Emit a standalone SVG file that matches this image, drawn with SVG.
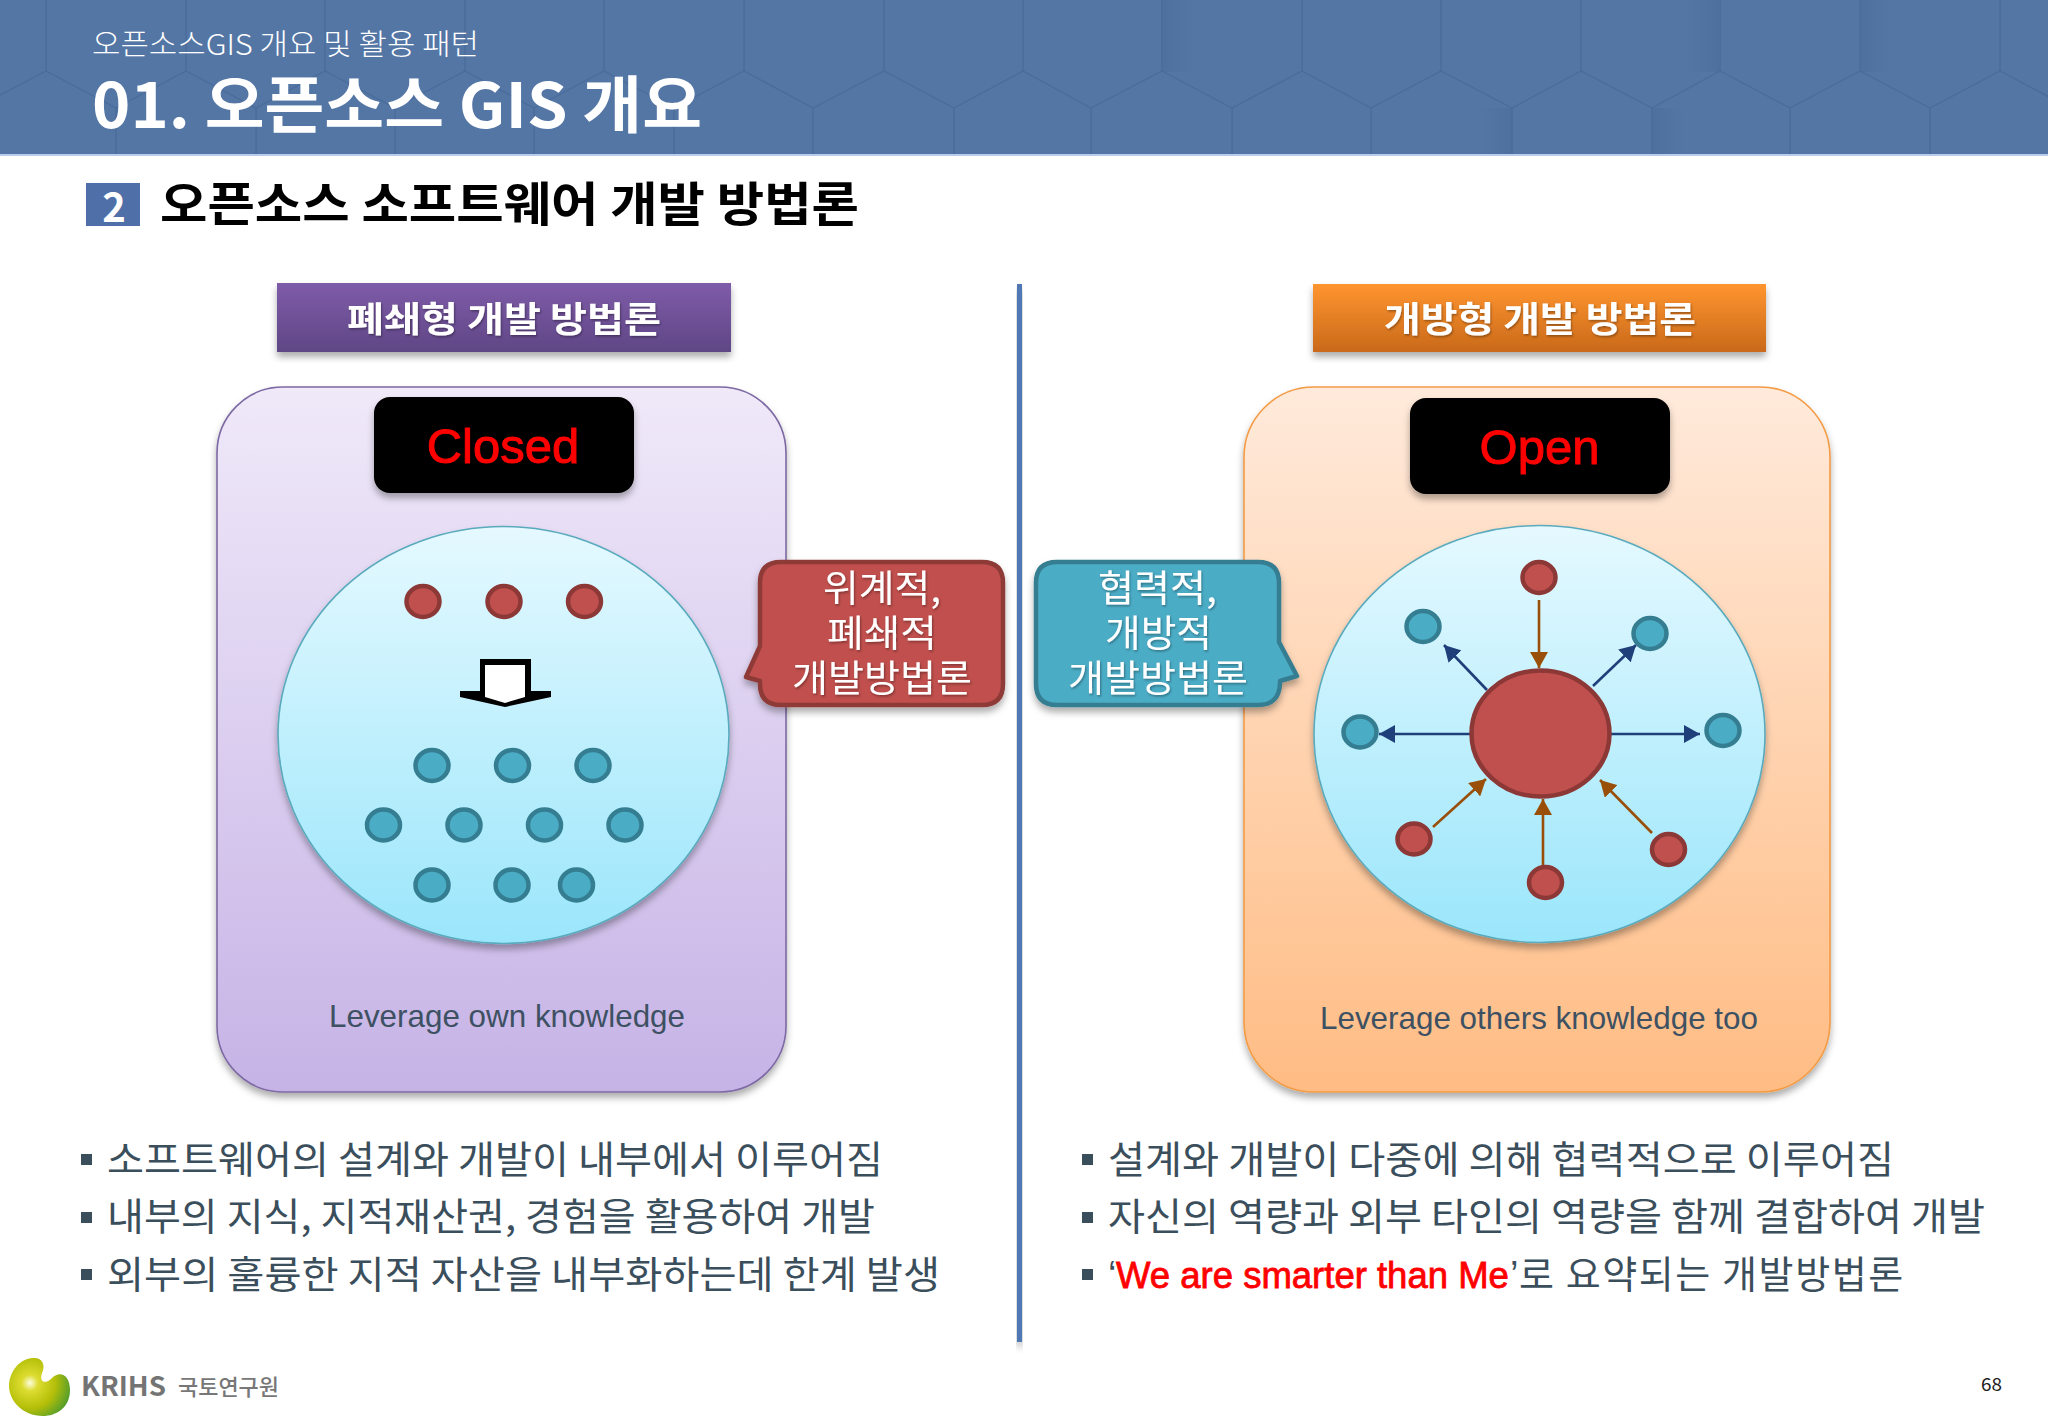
<svg xmlns="http://www.w3.org/2000/svg" width="2048" height="1418" viewBox="0 0 2048 1418">
<style>
text{font-family:"Noto Sans CJK KR","Noto Sans",sans-serif}
.en{font-family:"Liberation Sans",Arial,sans-serif}
.body{font-size:38px;fill:#3b4e5c}
.call{font-size:37px;fill:#fff;filter:url(#ts)}
.bar{font-size:35px;font-weight:700;fill:#fff;filter:url(#ts)}
.tag{font-size:49px;fill:#f00;stroke:#f00;stroke-width:1}
.lev{font-size:32px;fill:#3d5163}
.r{fill:#c0504d;stroke:#8c3836;stroke-width:4.5}
.b{fill:#4bacc6;stroke:#357d91;stroke-width:4.5}
.bul{fill:#3b4e5c}
.nv{stroke:#1f3f7a;stroke-width:2.6;fill:none;marker-end:url(#mn)}
.br{stroke:#9a4f08;stroke-width:2.6;fill:none;marker-end:url(#mb)}
</style>
<defs>
<linearGradient id="gp" x1="0" y1="0" x2="0" y2="1"><stop offset="0" stop-color="#f0e9f9"/><stop offset="1" stop-color="#c6b3e6"/></linearGradient>
<linearGradient id="go" x1="0" y1="0" x2="0" y2="1"><stop offset="0" stop-color="#ffeadb"/><stop offset="1" stop-color="#ffbc84"/></linearGradient>
<linearGradient id="gc" x1="0" y1="0" x2="0" y2="1"><stop offset="0" stop-color="#e5f9ff"/><stop offset="1" stop-color="#9be6fb"/></linearGradient>
<linearGradient id="bp" x1="0" y1="0" x2="0" y2="1"><stop offset="0" stop-color="#7f5ba9"/><stop offset="1" stop-color="#5f4785"/></linearGradient>
<linearGradient id="bo" x1="0" y1="0" x2="0" y2="1"><stop offset="0" stop-color="#ff952f"/><stop offset="1" stop-color="#c9691a"/></linearGradient>
<linearGradient id="sh" x1="0" y1="0" x2="1" y2="0"><stop offset="0" stop-color="#3f6393" stop-opacity=".3"/><stop offset="1" stop-color="#3f6393" stop-opacity="0"/></linearGradient>
<linearGradient id="sl" x1="1" y1="0" x2="0" y2="0"><stop offset="0" stop-color="#3f6393" stop-opacity=".3"/><stop offset="1" stop-color="#3f6393" stop-opacity="0"/></linearGradient>
<radialGradient id="lg" gradientUnits="userSpaceOnUse" cx="30" cy="1383" r="46"><stop offset="0" stop-color="#fdfde0"/><stop offset=".18" stop-color="#dcdc30"/><stop offset=".55" stop-color="#b5bf08"/><stop offset="1" stop-color="#3a9535"/></radialGradient>
<filter id="ds" x="-10%" y="-10%" width="120%" height="125%"><feDropShadow dx="0" dy="5" stdDeviation="3.5" flood-color="#000" flood-opacity=".32"/></filter>
<filter id="ts" x="-5%" y="-10%" width="110%" height="125%"><feDropShadow dx="1" dy="1.5" stdDeviation="1" flood-color="#000" flood-opacity=".35"/></filter>
<marker id="mn" markerUnits="userSpaceOnUse" markerWidth="17" markerHeight="18" refX="16" refY="9" orient="auto"><path d="M0,0L16,9L0,18Z" fill="#1f3f7a"/></marker>
<marker id="mb" markerUnits="userSpaceOnUse" markerWidth="17" markerHeight="18" refX="16" refY="9" orient="auto"><path d="M0,0L16,9L0,18Z" fill="#9a4f08"/></marker>
</defs>
<rect width="2048" height="1418" fill="#fff"/>

<g id="header">
<rect width="2048" height="155" fill="#5476a5"/>
<rect x="1161" y="0" width="34" height="72" fill="url(#sh)"/>
<rect x="1686" y="0" width="33" height="72" fill="url(#sl)"/>
<rect x="1860" y="0" width="30" height="72" fill="url(#sh)"/>
<rect x="1480" y="108" width="32" height="47" fill="url(#sl)"/>
<rect x="1652" y="108" width="32" height="47" fill="url(#sh)"/>
<path d="M-24,108L46,71L116,108L186,71L256,108L325,71L395,108L465,71L534,108L604,71L674,108L744,71L813,108L884,71L954,108L1023,71L1091,108L1162,71L1232,108L1302,71L1371,108L1441,71L1512,108L1581,71L1652,108L1720,71L1790,108L1860,71L1930,108L2000,71L2070,108
M46,0V71M186,0V71M325,0V71M465,0V71M604,0V71M744,0V71M884,0V71M1023,0V71M1162,0V71M1302,0V71M1441,0V71M1581,0V71M1720,0V71M1860,0V71M2000,0V71
M116,108V155M256,108V155M395,108V155M534,108V155M674,108V155M813,108V155M954,108V155M1091,108V155M1232,108V155M1371,108V155M1512,108V155M1652,108V155M1790,108V155M1930,108V155" fill="none" stroke="#4a6c9b" stroke-width="1.4"/>
<rect y="154" width="2048" height="2" fill="#b8cdea"/>
<text x="92" y="55" font-size="29" fill="#fff" textLength="387" lengthAdjust="spacingAndGlyphs" font-weight="300">오픈소스GIS 개요 및 활용 패턴</text>
<text x="92" y="128" font-size="62" fill="#fff" font-weight="700" textLength="610" lengthAdjust="spacingAndGlyphs">01. 오픈소스 GIS 개요</text>
</g>

<g id="section-heading">
<rect x="86" y="183" width="54" height="43" fill="#4f6fa8"/>
<text x="114" y="222" font-size="40" font-weight="700" fill="#fff" text-anchor="middle">2</text>
<text x="160" y="221" font-size="47" font-weight="700" fill="#000" textLength="699" lengthAdjust="spacingAndGlyphs">오픈소스 소프트웨어 개발 방법론</text>
</g>

<g id="divider"><rect x="1017" y="284" width="5" height="1058" fill="#4f78b5" filter="url(#ds)"/></g>

<g id="closed-header"><rect x="277" y="283" width="454" height="69" fill="url(#bp)" filter="url(#ds)"/>
<text class="bar" x="347" y="332" textLength="314" lengthAdjust="spacingAndGlyphs">폐쇄형 개발 방법론</text></g>
<g id="open-header"><rect x="1313" y="284" width="453" height="68" fill="url(#bo)" filter="url(#ds)"/>
<text class="bar" x="1384" y="332" textLength="312" lengthAdjust="spacingAndGlyphs">개방형 개발 방법론</text></g>

<g id="closed-panel">
<rect x="217" y="387" width="569" height="705" rx="66" fill="url(#gp)" stroke="#7d69a3" stroke-width="1.6" filter="url(#ds)"/>
<rect x="374" y="397" width="260" height="96" rx="16" fill="#000" filter="url(#ds)"/>
<text class="tag en" x="503" y="463" text-anchor="middle">Closed</text>
<ellipse cx="503.5" cy="735" rx="225.5" ry="208.5" fill="url(#gc)" stroke="#5aaabd" stroke-width="1.6" filter="url(#ds)"/>
<text class="lev en" x="329" y="1027" textLength="356" lengthAdjust="spacingAndGlyphs">Leverage own knowledge</text>
</g>
<g id="open-panel">
<rect x="1244" y="387" width="586" height="705" rx="70" fill="url(#go)" stroke="#f39b45" stroke-width="1.6" filter="url(#ds)"/>
<rect x="1410" y="398" width="260" height="96" rx="16" fill="#000" filter="url(#ds)"/>
<text class="tag en" x="1539.500" y="464" text-anchor="middle">Open</text>
<ellipse cx="1539.500" cy="734" rx="225.500" ry="208.500" fill="url(#gc)" stroke="#5aaabd" stroke-width="1.6" filter="url(#ds)"/>
<text class="lev en" x="1320" y="1029" textLength="438" lengthAdjust="spacingAndGlyphs">Leverage others knowledge too</text>
</g>

<g id="closed-nodes">
<ellipse class="r" cx="423" cy="601.500" rx="16.500" ry="15.500"/><ellipse class="r" cx="504" cy="601.500" rx="16.500" ry="15.500"/><ellipse class="r" cx="584.500" cy="601.500" rx="16.500" ry="15.500"/>
<ellipse class="b" cx="432" cy="765.500" rx="16.500" ry="15.500"/><ellipse class="b" cx="512.500" cy="765.500" rx="16.500" ry="15.500"/><ellipse class="b" cx="593" cy="765.500" rx="16.500" ry="15.500"/>
<ellipse class="b" cx="383.500" cy="825" rx="16.500" ry="15.500"/><ellipse class="b" cx="464" cy="825" rx="16.500" ry="15.500"/><ellipse class="b" cx="544.500" cy="825" rx="16.500" ry="15.500"/><ellipse class="b" cx="625" cy="825" rx="16.500" ry="15.500"/>
<ellipse class="b" cx="432" cy="885" rx="16.500" ry="15.500"/><ellipse class="b" cx="512" cy="885" rx="16.500" ry="15.500"/><ellipse class="b" cx="576.500" cy="885" rx="16.500" ry="15.500"/>
</g>
<g id="down-arrow">
<path d="M480,659H531V691H551V697L505,707L460,697V691H480Z" fill="#000"/>
<path d="M485,665H525V697L505,703L485,697Z" fill="#fff"/>
</g>

<g id="connectors">
<path class="br" d="M1539,600V668"/>
<path class="nv" d="M1487,690L1444,645"/>
<path class="nv" d="M1593,686L1636,645"/>
<path class="nv" d="M1470,734H1379"/>
<path class="nv" d="M1611,734H1700"/>
<path class="br" d="M1433,827L1486,779"/>
<path class="br" d="M1543,866V799"/>
<path class="br" d="M1652,833L1600,780"/>
</g>
<g id="open-nodes">
<ellipse class="r" cx="1540.500" cy="733.500" rx="69" ry="63"/>
<ellipse class="r" cx="1539" cy="577.500" rx="16.500" ry="15.500"/>
<ellipse class="b" cx="1423" cy="626.500" rx="16.500" ry="15.500"/>
<ellipse class="b" cx="1650" cy="633.500" rx="16.500" ry="15.500"/>
<ellipse class="b" cx="1360" cy="732" rx="16.500" ry="15.500"/>
<ellipse class="b" cx="1723" cy="730.500" rx="16.500" ry="15.500"/>
<ellipse class="r" cx="1414" cy="839" rx="16.500" ry="15.500"/>
<ellipse class="r" cx="1545.500" cy="882.500" rx="16.500" ry="15.500"/>
<ellipse class="r" cx="1668.500" cy="849.500" rx="16.500" ry="15.500"/>
</g>

<g id="closed-callout">
<path d="M781,562H982Q1003,562 1003,583V684Q1003,705 982,705H781Q760,705 760,684V681L746,677L760,646V583Q760,562 781,562Z" fill="#c0504d" stroke="#8e3a38" stroke-width="4.500" stroke-linejoin="round" filter="url(#ds)"/>
<text class="call" x="823" y="602" textLength="118" lengthAdjust="spacingAndGlyphs">위계적,</text>
<text class="call" x="827" y="647" textLength="110" lengthAdjust="spacingAndGlyphs">폐쇄적</text>
<text class="call" x="792" y="692" textLength="180" lengthAdjust="spacingAndGlyphs">개발방법론</text>
</g>
<g id="open-callout">
<path d="M1057,562H1258Q1279,562 1279,583V642L1297,676L1280,681V684Q1279,705 1258,705H1057Q1036,705 1036,684V583Q1036,562 1057,562Z" fill="#4bacc6" stroke="#357d91" stroke-width="4.500" stroke-linejoin="round" filter="url(#ds)"/>
<text class="call" x="1098" y="602" textLength="119" lengthAdjust="spacingAndGlyphs">협력적,</text>
<text class="call" x="1105" y="647" textLength="107" lengthAdjust="spacingAndGlyphs">개방적</text>
<text class="call" x="1068" y="692" textLength="180" lengthAdjust="spacingAndGlyphs">개발방법론</text>
</g>

<g id="closed-bullets">
<rect class="bul" x="81" y="1154" width="11" height="11"/><rect class="bul" x="81" y="1212" width="11" height="11"/><rect class="bul" x="81" y="1269" width="11" height="11"/>
<text class="body" x="107" y="1173" textLength="776" lengthAdjust="spacingAndGlyphs">소프트웨어의 설계와 개발이 내부에서 이루어짐</text>
<text class="body" x="107" y="1230" textLength="768" lengthAdjust="spacingAndGlyphs">내부의 지식, 지적재산권, 경험을 활용하여 개발</text>
<text class="body" x="107" y="1288" textLength="833" lengthAdjust="spacingAndGlyphs">외부의 훌륭한 지적 자산을 내부화하는데 한계 발생</text>
</g>
<g id="open-bullets">
<rect class="bul" x="1082" y="1154" width="11" height="11"/><rect class="bul" x="1082" y="1212" width="11" height="11"/><rect class="bul" x="1082" y="1269" width="11" height="11"/>
<text class="body" x="1108" y="1173" textLength="786" lengthAdjust="spacingAndGlyphs">설계와 개발이 다중에 의해 협력적으로 이루어짐</text>
<text class="body" x="1108" y="1230" textLength="877" lengthAdjust="spacingAndGlyphs">자신의 역량과 외부 타인의 역량을 함께 결합하여 개발</text>
<text class="body" y="1288"><tspan class="en" x="1108">‘</tspan><tspan class="en" x="1116" fill="#f00" stroke="#f00" stroke-width=".8" font-size="36.500">We are smarter than Me</tspan><tspan class="en" x="1510">’</tspan><tspan x="1519" letter-spacing="1.6">로 요약되는 개발방법론</tspan></text>
</g>

<g id="logo">
<path d="M33,1358C42,1357 46,1365 42,1373C39,1382 45,1385 52,1378C60,1370 70,1375 70,1390C70,1408 56,1416 43,1416C22,1416 9,1400 9,1386C9,1372 20,1358 33,1358Z" fill="url(#lg)"/>
<text x="81" y="1396" font-size="27" font-weight="700" fill="#747474" textLength="85" lengthAdjust="spacingAndGlyphs">KRIHS</text>
<text x="178" y="1395" font-size="22" font-weight="500" fill="#777" textLength="101" lengthAdjust="spacingAndGlyphs">국토연구원</text>
</g>
<text id="page-number" x="1981" y="1391" font-size="18" fill="#222" textLength="21" lengthAdjust="spacingAndGlyphs">68</text>
</svg>
